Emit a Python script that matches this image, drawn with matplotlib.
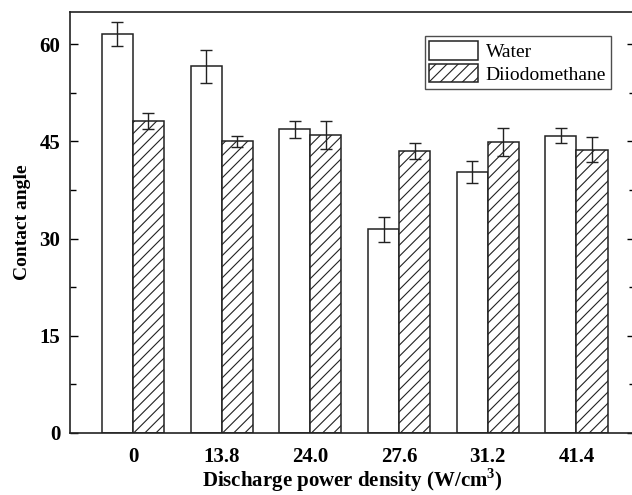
import matplotlib
matplotlib.use("Agg")
import matplotlib.pyplot as plt
import numpy as np

categories = ["0", "13.8", "24.0", "27.6", "31.2", "41.4"]
water = [61.6, 56.6, 46.9, 31.4, 40.3, 45.9]
water_err = [1.8, 2.5, 1.3, 1.95, 1.7, 1.15]
diiodo = [48.2, 45.0, 46.0, 43.5, 44.9, 43.7]
diiodo_err = [1.2, 0.85, 2.1, 1.25, 2.2, 1.95]
yticks = [0, 15, 30, 45, 60]

plt.rcParams['font.family'] = ['Liberation Serif', 'DejaVu Serif']
plt.rcParams['mathtext.fontset'] = 'custom'
plt.rcParams['mathtext.rm'] = 'Liberation Serif'
plt.rcParams['mathtext.bf'] = 'Liberation Serif:bold'
plt.rcParams['hatch.color'] = '#555555'
plt.rcParams['hatch.linewidth'] = 0.8

fig = plt.figure(figsize=(6.32, 4.95), dpi=100)
ax = fig.add_axes([70/632, 1-432.7/495, (635-70)/632, (432.7-12)/495])

x = np.arange(len(categories))
w = 0.35
ax.bar(x - w/2, water, w, color='white', edgecolor='#222222', linewidth=1.1,
       yerr=water_err, error_kw=dict(ecolor='#222222', elinewidth=1.0, capsize=4.5, capthick=1.0),
       label='Water')
ax.bar(x + w/2, diiodo, w, color='white', edgecolor='#222222', linewidth=1.1, hatch='///',
       yerr=diiodo_err, error_kw=dict(ecolor='#222222', elinewidth=1.0, capsize=4.5, capthick=1.0),
       label='Diiodomethane')

ax.set_xlim(-0.71, 5.66)
ax.set_ylim(0, 65)
ax.set_xticks(x)
ax.set_xticklabels(categories, fontsize=15, fontweight='bold')
ax.set_yticks(yticks)
ax.set_yticklabels([str(v) for v in yticks], fontsize=15, fontweight='bold')
ax.set_yticks(np.arange(7.5, 65, 15), minor=True)
ax.tick_params(axis='y', which='both', direction='in', right=True, length=6, width=1.0, pad=7)
ax.tick_params(axis='y', which='minor', length=4)
ax.tick_params(axis='x', length=0, pad=10)
for s in ax.spines.values():
    s.set_linewidth(1.2)
    s.set_color('#222222')

ax.set_xlabel(r'Discharge power density (W/cm$^{\mathbf{3}}$)', fontsize=15, fontweight='bold', labelpad=0)
ax.set_ylabel('Contact angle', fontsize=14, fontweight='bold', labelpad=6)

leg = ax.legend(loc='upper right', bbox_to_anchor=(611/632, 1-36/495), bbox_transform=fig.transFigure,
                fontsize=14, frameon=True, fancybox=False, edgecolor='#222222', borderaxespad=0,
                handlelength=2.5, handleheight=1.1, borderpad=0.25, labelspacing=0.15, handletextpad=0.4)
leg.get_frame().set_linewidth(1.0)

fig.savefig('out.png', dpi=100)
